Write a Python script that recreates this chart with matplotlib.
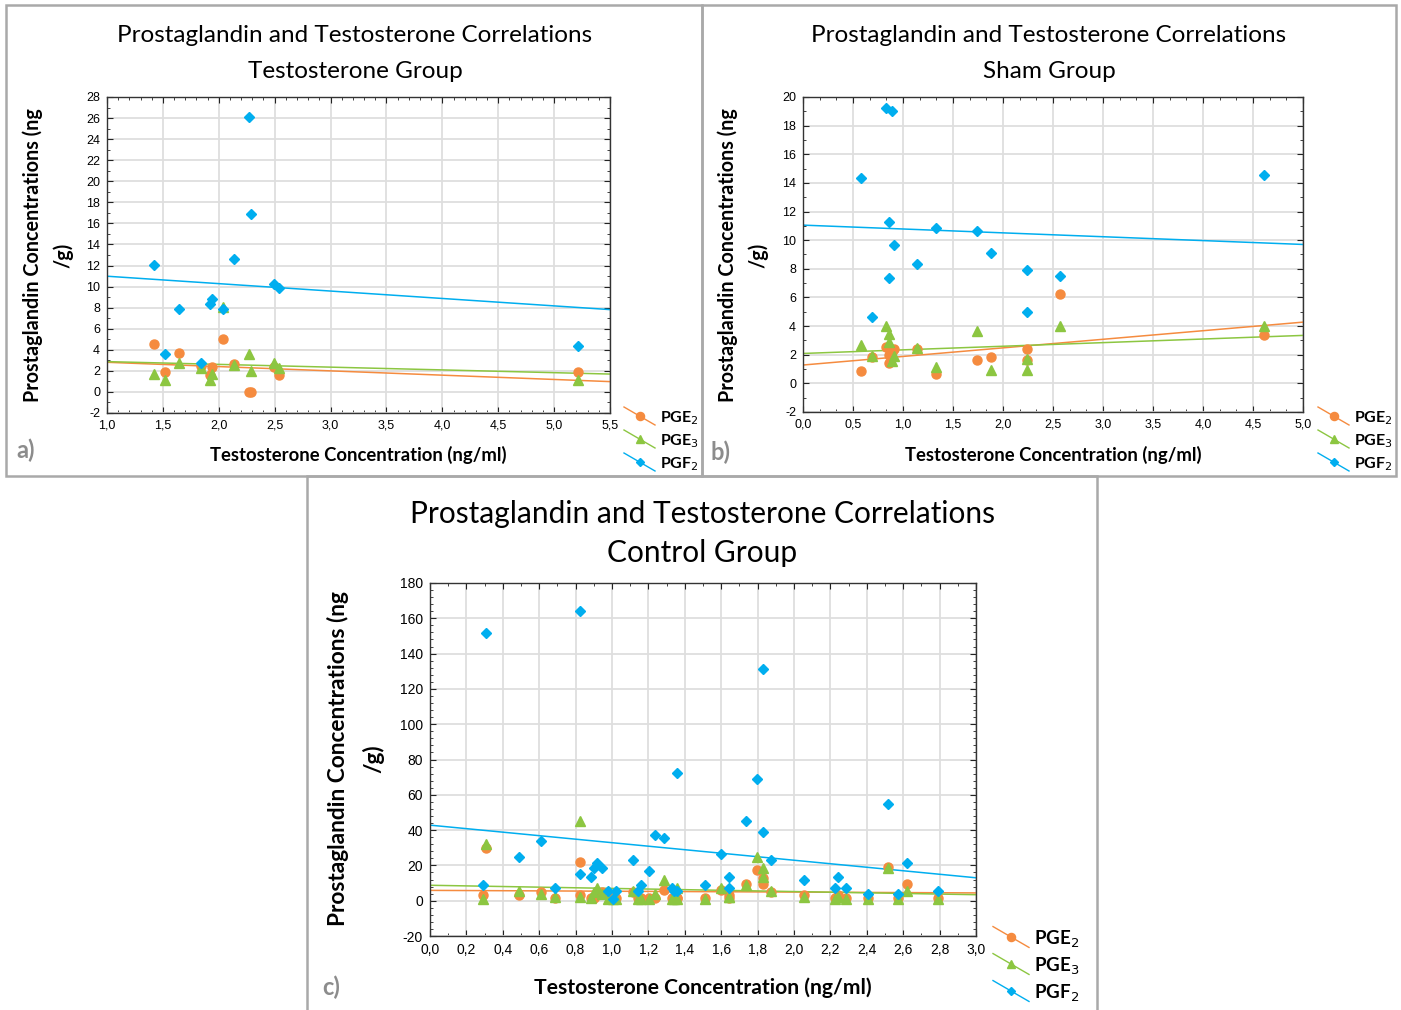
import numpy as np
import matplotlib
matplotlib.use("Agg")
from matplotlib import pyplot as plt
from matplotlib.lines import Line2D
from matplotlib.patches import Rectangle
from matplotlib.ticker import MultipleLocator, FuncFormatter

plt.rcParams['axes.unicode_minus'] = False

# testosterone group (ng/ml) and prostaglandins (ng/g)
t_testo = [1.42, 1.52, 1.645, 1.84, 1.92, 1.94, 2.04, 2.14, 2.27, 2.29, 2.49, 2.54, 5.21]
pge2_testo = [4.52, 1.86, 3.69, 2.43, 1.61, 2.37, 5.02, 2.65, 0.0, 0.0, 2.37, 1.58, 1.86]
pge3_testo = [1.70, 1.17, 2.78, 2.27, 1.17, 1.70, 8.08, 2.53, 3.57, 1.96, 2.78, 2.27, 1.17]
pgf2_testo = [12.09, 3.57, 7.83, 2.78, 8.34, 8.87, 7.83, 12.6, 26.1, 16.86, 10.2, 9.9, 4.39]

# sham group
t_sham = [0.583, 0.693, 0.833, 0.86, 0.86, 0.89, 0.913, 1.137, 1.33, 1.743, 1.88, 2.24, 2.24, 2.57, 4.61]
pge2_sham = [0.83, 1.81, 2.57, 1.99, 1.41, 2.20, 2.38, 2.38, 0.63, 1.60, 1.81, 2.38, 1.60, 6.27, 3.36]
pge3_sham = [2.69, 1.90, 4.03, 3.45, 2.87, 1.53, 1.90, 2.48, 1.13, 3.63, 0.93, 1.69, 0.93, 4.03, 4.03]
pgf2_sham = [14.37, 4.63, 19.24, 11.25, 7.34, 19.03, 9.68, 8.31, 10.86, 10.65, 9.10, 7.92, 5.0, 7.52, 14.56]

# control group
t_ctrl = [0.29, 0.305, 0.487, 0.611, 0.686, 0.824, 0.824, 0.884, 0.899, 0.916, 0.945, 0.976, 1.007, 1.022,
          1.114, 1.143, 1.16, 1.204, 1.235, 1.283, 1.327, 1.343, 1.358, 1.358, 1.51, 1.6, 1.644, 1.644,
          1.738, 1.798, 1.827, 1.827, 1.873, 2.057, 2.224, 2.24, 2.285, 2.407, 2.514, 2.574, 2.62, 2.789]
pge2_ctrl = [3.0, 30.0, 3.0, 4.7, 1.5, 22.1, 3.0, 1.5, 1.5, 3.0, 4.7, 3.0, 3.0, 1.5,
             4.7, 1.5, 1.5, 1.5, 1.5, 6.2, 1.5, 1.5, 1.5, 1.5, 1.5, 6.2, 3.2, 1.5,
             9.4, 17.4, 12.6, 9.4, 4.7, 3.2, 1.5, 3.2, 1.5, 1.5, 19.1, 1.5, 9.4, 1.5]
pge3_ctrl = [0.75, 32.3, 5.5, 4.0, 2.3, 45.3, 2.3, 1.5, 4.7, 7.0, 4.0, 0.75, 0.75, 0.75,
             5.5, 0.75, 0.75, 0.75, 4.0, 11.9, 0.75, 0.75, 7.0, 0.75, 0.75, 7.0, 2.3, 2.3,
             8.7, 24.5, 18.3, 13.4, 5.5, 2.3, 0.75, 2.3, 0.75, 0.75, 18.3, 0.75, 5.5, 0.75]
pgf2_ctrl = [8.7, 151.7, 24.5, 34.0, 7.0, 164.3, 15.1, 13.4, 18.3, 21.5, 18.3, 5.5, 0.75, 5.5,
             23.0, 5.5, 8.7, 16.6, 37.4, 35.8, 7.0, 5.5, 72.1, 5.5, 8.7, 26.2, 13.6, 7.0,
             45.3, 69.2, 131.1, 38.9, 23.0, 11.9, 7.0, 13.6, 7.0, 4.0, 54.7, 4.0, 21.5, 5.5]

series_names = ['PGE$_2$', 'PGE$_3$', 'PGF$_2$']
colors = ['#F58B3F', '#8CC641', '#00AEEF']
markers = ['o', '^', 'D']
msizes = [6.5, 6.5, 4.8]

W, H = 1401, 1010
fig = plt.figure(figsize=(W / 100, H / 100), dpi=100)

TITLE_FONT = 'Lato'
TICK_FONT = 'Liberation Sans'


def fx(px):
    return px / W


def fy(py):
    return 1 - py / H


def box(l, t, r, b):
    fig.add_artist(Rectangle((fx(l), fy(b)), (r - l) / W, (b - t) / H, fill=False,
                             ec='#a9a9a9', lw=1.8, transform=fig.transFigure))


def comma(v, pos):
    return f"{v:.1f}".replace('.', ',')


def panel(rect, t, ys, xlim, ylim, xmaj, xmin, ymaj, ymin, title, tcx, ty1, ty2, tsize,
          xl_y, yl_x1, yl_x2, yl_y, lab_size, tick_size, leg_x, leg_y, leg_size, leg_dx, leg_dy, tag, tag_xy):
    l, top, r, b = rect
    ax = fig.add_axes([fx(l), fy(b), (r - l) / W, (b - top) / H])
    ax.set_xlim(*xlim)
    ax.set_ylim(*ylim)
    ax.xaxis.set_major_locator(MultipleLocator(xmaj))
    ax.xaxis.set_minor_locator(MultipleLocator(xmin))
    ax.yaxis.set_major_locator(MultipleLocator(ymaj))
    ax.yaxis.set_minor_locator(MultipleLocator(ymin))
    ax.xaxis.set_major_formatter(FuncFormatter(comma))
    ax.grid(True, which='major', color='#dedede', lw=1.3)
    ax.set_axisbelow(True)
    ax.tick_params(which='both', direction='in', top=True, right=True, labelsize=tick_size,
                   colors='#222222', labelcolor='black', pad=5)
    ax.tick_params(which='major', length=4)
    ax.tick_params(which='minor', length=2.5)
    for lab in ax.get_xticklabels() + ax.get_yticklabels():
        lab.set_fontfamily(TICK_FONT)
    for s in ax.spines.values():
        s.set_color('#333333')
        s.set_linewidth(1.0)

    # least-squares trend line for each series, then the points on top
    xs = np.array(t)
    xx = np.array(xlim)
    for y, c in zip(ys, colors):
        k, d = np.polyfit(xs, np.array(y), 1)
        ax.plot(xx, k * xx + d, color=c, lw=1.1, zorder=2)
    for y, c, m, ms in zip(ys, colors, markers, msizes):
        ax.plot(xs, y, ls='none', marker=m, ms=ms, color=c, mec=c, zorder=3, clip_on=False)

    fig.text(fx(tcx), fy(ty1), 'Prostaglandin and Testosterone Correlations', ha='center', va='center',
             fontsize=tsize, family=TITLE_FONT)
    fig.text(fx(tcx), fy(ty2), title, ha='center', va='center', fontsize=tsize, family=TITLE_FONT)
    fig.text(fx((l + r) / 2), fy(xl_y), 'Testosterone Concentration (ng/ml)', ha='center', va='center',
             fontsize=lab_size, family=TITLE_FONT, weight='bold')
    fig.text(fx(yl_x1), fy(yl_y), 'Prostaglandin Concentrations (ng', ha='center', va='center',
             rotation=90, fontsize=lab_size * 1.07, family=TITLE_FONT, weight='bold')
    fig.text(fx(yl_x2), fy(yl_y), '/g)', ha='center', va='center',
             rotation=90, fontsize=lab_size * 1.07, family=TITLE_FONT, weight='bold')
    fig.text(fx(tag_xy[0]), fy(tag_xy[1]), tag, ha='left', va='center', fontsize=17,
             family=TITLE_FONT, weight='bold', color='#8c8c8c')

    # legend with slanted sample lines
    for i, (name, c, m, ms) in enumerate(zip(series_names, colors, markers, msizes)):
        y0 = leg_y + i * leg_dy
        x0 = leg_x
        fig.add_artist(Line2D([fx(x0), fx(x0 + leg_dx)], [fy(y0 - leg_dx * 0.29), fy(y0 + leg_dx * 0.29)],
                              color=c, lw=1.0, transform=fig.transFigure))
        fig.add_artist(Line2D([fx(x0 + leg_dx / 2)], [fy(y0)], ls='none', marker=m, ms=ms * 0.9,
                              color=c, transform=fig.transFigure))
        fig.text(fx(x0 + leg_dx + 5), fy(y0 + 2), name, ha='left', va='center', fontsize=leg_size,
                 family=TITLE_FONT, weight='bold')
    return ax


box(6, 5, 702, 476)
box(702, 5, 1396, 476)
box(307, 476, 1097, 1014)

panel((107, 97, 610, 413), t_testo, [pge2_testo, pge3_testo, pgf2_testo], (1.0, 5.5), (-2, 28),
      0.5, 0.1, 2, 1, 'Testosterone Group', 355, 35, 72, 17.5,
      455, 33, 63, 255, 13.3, 9, 624, 416, 11.5, 31, 23, 'a)', (16, 450))

panel((803, 97, 1303, 412), t_sham, [pge2_sham, pge3_sham, pgf2_sham], (0.0, 5.0), (-2, 20),
      0.5, 0.5 / 3, 2, 1, 'Sham Group', 1049, 35, 72, 17.5,
      455, 728, 758, 255, 13.3, 9, 1318, 416, 11.5, 31, 23, 'b)', (710, 452))

panel((430, 583, 976, 936), t_ctrl, [pge2_ctrl, pge3_ctrl, pgf2_ctrl], (0.0, 3.0), (-20, 180),
      0.2, 0.1, 20, 4, 'Control Group', 702, 514, 553, 21.5,
      988, 338, 373, 759, 15.2, 10, 993, 937, 13.5, 36, 27, 'c)', (322, 987))

fig.savefig('out.png', dpi=100)
